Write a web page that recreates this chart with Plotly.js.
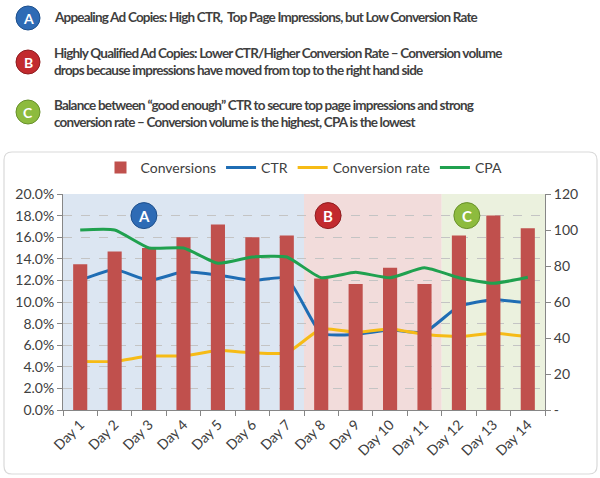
<!DOCTYPE html>
<html>
<head>
<meta charset="utf-8">
<script src="https://cdn.plot.ly/plotly-3.0.1.min.js"></script>
<style>
html,body{margin:0;padding:0;background:#fff;}
#chart{width:600px;height:478px;}
</style>
</head>
<body>
<div id="chart"></div>
<script>
// ---- data ----
const days = ['Day 1','Day 2','Day 3','Day 4','Day 5','Day 6','Day 7','Day 8','Day 9','Day 10','Day 11','Day 12','Day 13','Day 14'];
const conversions = [81, 88, 90, 96, 103, 96, 97, 73, 70, 79, 70, 97, 108, 101];
const ctr = [0.120, 0.130, 0.120, 0.128, 0.125, 0.120, 0.122, 0.071, 0.070, 0.074, 0.072, 0.096, 0.102, 0.099];
const convRate = [0.045, 0.045, 0.050, 0.050, 0.055, 0.053, 0.053, 0.075, 0.072, 0.075, 0.070, 0.068, 0.071, 0.068];
const cpa = [100, 100, 90, 90, 81.5, 85, 85, 73.5, 76.5, 73.5, 79, 73.5, 70.4, 73.7];
const rightTickVals = [0, 20, 40, 60, 80, 100, 120];
const rightTickText = ['-', '20', '40', '60', '80', '100', '120'];
const phaseLabels = ['A', 'B', 'C'];
const phaseStart = ['Day 1', 'Day 8', 'Day 12'];
const phaseEnd = ['Day 7', 'Day 11', 'Day 14'];
const phaseNotes = [
  ['Appealing Ad Copies: High CTR,  Top Page Impressions, but Low Conversion Rate'],
  ['Highly Qualified Ad Copies: Lower CTR/Higher Conversion Rate \u2013 Conversion volume',
   'drops because impressions have moved from top to the right hand side'],
  ['Balance between \u201cgood enough\u201d CTR to secure top page impressions and strong',
   'conversion rate \u2013 Conversion volume is the highest, CPA is the lowest']
];

// ---- styling ----
const W = 600, H = 478;
const M = {l: 63, r: 55, t: 194, b: 68};
const PW = W - M.l - M.r, PH = H - M.t - M.b;
const px = x => (x - M.l) / PW;          // pixel -> paper x
const py = y => (H - M.b - y) / PH;      // pixel -> paper y
const phaseFill = ['#dce6f2', '#f2dcdb', '#ebf1de'];
const badgeFill = ['#2e6bb5', '#c22a2e', '#8dbb3e'];
const badgeLine = ['#1d4f8c', '#8f1c1f', '#67902a'];
const FONT = 'Lato, "Open Sans", sans-serif';

const traces = [
  {type: 'bar', name: 'Conversions', x: days, y: conversions, yaxis: 'y2',
   marker: {color: '#c0504d'}},
  {type: 'scatter', mode: 'lines', name: 'CTR', x: days, y: ctr,
   line: {color: '#1f6db4', width: 3, shape: 'spline', smoothing: 0.5}},
  {type: 'scatter', mode: 'lines', name: 'Conversion rate', x: days, y: convRate,
   line: {color: '#f6bb16', width: 3, shape: 'spline', smoothing: 0.5}},
  {type: 'scatter', mode: 'lines', name: 'CPA', x: days, y: cpa, yaxis: 'y2',
   line: {color: '#20a14f', width: 3, shape: 'spline', smoothing: 0.5}}
];

const shapes = [];
const annotations = [];

// container rounded rectangle
(function(){
  const x0 = px(4), x1 = px(597), y0 = py(474), y1 = py(152);
  const rx = 8 / PW, ry = 8 / PH;
  const p = `M ${x0+rx} ${y1} L ${x1-rx} ${y1} Q ${x1} ${y1} ${x1} ${y1-ry} L ${x1} ${y0+ry} Q ${x1} ${y0} ${x1-rx} ${y0} L ${x0+rx} ${y0} Q ${x0} ${y0} ${x0} ${y0+ry} L ${x0} ${y1-ry} Q ${x0} ${y1} ${x0+rx} ${y1} Z`;
  shapes.push({type: 'path', xref: 'paper', yref: 'paper', path: p, layer: 'below',
    fillcolor: '#ffffff', line: {color: '#d9d9d9', width: 1.2}});
})();

// phase backgrounds
for (let i = 0; i < 3; i++) {
  const s = days.indexOf(phaseStart[i]) - 0.5, e = days.indexOf(phaseEnd[i]) + 0.5;
  shapes.push({type: 'rect', xref: 'x', yref: 'paper', x0: s, x1: e, y0: 0, y1: 1,
    layer: 'below', fillcolor: phaseFill[i], line: {width: 0}});
}

// in-plot badges
const badgeX = [1.85, 7.2, 11.23];
for (let i = 0; i < 3; i++) {
  shapes.push({type: 'circle', xref: 'x', yref: 'y', xsizemode: 'pixel', ysizemode: 'pixel',
    xanchor: badgeX[i], yanchor: 0.18, x0: -13, x1: 13, y0: -13, y1: 13,
    fillcolor: badgeFill[i], line: {color: badgeLine[i], width: 1}});
  annotations.push({xref: 'x', yref: 'y', x: badgeX[i], y: 0.18, text: '<b>' + phaseLabels[i] + '</b>',
    showarrow: false, font: {family: FONT, size: 15, color: '#ffffff'}});
}

// header badges and notes
const headBadgeY = [18, 62, 112];
const noteLineY = [[17], [53, 70], [105, 122]];
for (let i = 0; i < 3; i++) {
  const cx = 28, cy = headBadgeY[i], r = 12;
  shapes.push({type: 'circle', xref: 'paper', yref: 'paper',
    x0: px(cx - r), x1: px(cx + r), y0: py(cy + r), y1: py(cy - r),
    fillcolor: badgeFill[i], line: {color: badgeLine[i], width: 1}});
  annotations.push({xref: 'paper', yref: 'paper', x: px(cx), y: py(cy), xanchor: 'center', yanchor: 'middle',
    text: '<b>' + phaseLabels[i] + '</b>', showarrow: false,
    font: {family: FONT, size: 14, color: '#ffffff'}});
  phaseNotes[i].forEach((t, j) => {
    annotations.push({xref: 'paper', yref: 'paper', x: px(52), y: py(noteLineY[i][j]),
      xanchor: 'left', yanchor: 'middle',
      text: '<span style="letter-spacing:-0.8px"><b>' + t + '</b></span>', showarrow: false,
      font: {family: FONT, size: 13.5, color: '#3f3f3f'}});
  });
}

const layout = {
  width: W, height: H,
  margin: M,
  paper_bgcolor: '#ffffff', plot_bgcolor: 'rgba(0,0,0,0)',
  font: {family: FONT, color: '#404040', size: 14},
  bargap: 0.59,
  showlegend: true,
  legend: {orientation: 'h', x: 0.5, xanchor: 'center', y: py(168), yanchor: 'middle',
    font: {family: FONT, size: 14, color: '#404040'}, bgcolor: 'rgba(0,0,0,0)', traceorder: 'normal'},
  xaxis: {type: 'category', showline: true, linecolor: '#868686', ticks: 'outside', tickson: 'boundaries',
    ticklen: 5, tickcolor: '#868686', tickangle: -45, tickfont: {family: FONT, size: 14, color: '#404040'},
    showgrid: false, zeroline: false, fixedrange: true},
  yaxis: {range: [0, 0.2], dtick: 0.02, tick0: 0, tickformat: '.1%', showline: true, linecolor: '#868686',
    ticks: 'outside', ticklen: 5, tickcolor: '#868686', gridcolor: '#c4c4c4', griddash: 'dash', gridwidth: 1,
    zeroline: false, tickfont: {family: FONT, size: 14, color: '#404040'}},
  yaxis2: {overlaying: 'y', side: 'right', range: [0, 120], tickvals: rightTickVals, ticktext: rightTickText,
    showline: true, linecolor: '#868686', ticks: 'outside', ticklen: 5, tickcolor: '#868686',
    showgrid: false, zeroline: false, tickfont: {family: FONT, size: 14, color: '#404040'}},
  shapes: shapes,
  annotations: annotations
};

Plotly.newPlot('chart', traces, layout, {displayModeBar: false, staticPlot: true});
</script>
</body>
</html>
